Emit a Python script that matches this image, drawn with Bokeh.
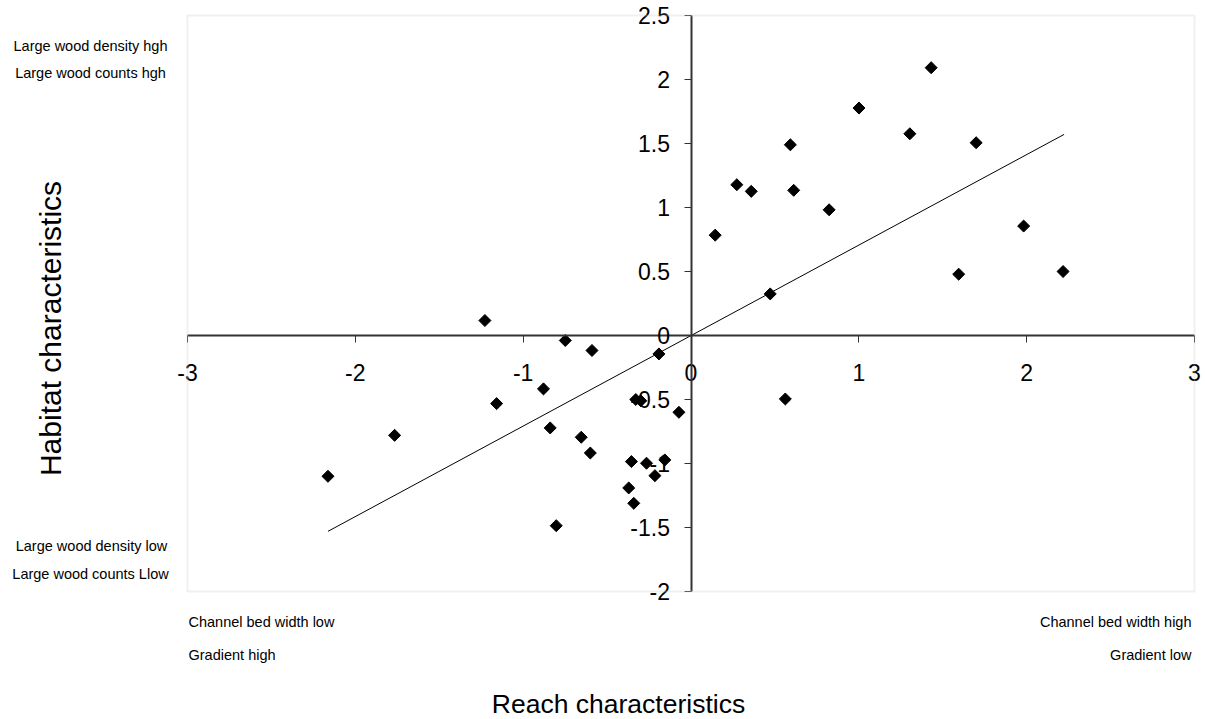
from bokeh.plotting import figure
from bokeh.models import FixedTicker, Label, LinearAxis, BoxAnnotation
from bokeh.embed import file_html
from bokeh.resources import INLINE
import numpy as np

# Reach characteristics (x) vs Habitat characteristics (y)
reach = [0.144, 0.273, 0.359, 0.592, 0.612, 0.472, 0.823, 1.001, 1.304, 1.431,
         1.699, 1.595, 1.982, 2.217, 0.562, -0.072, -1.228, -0.749, -0.590, -0.191,
         -0.879, -1.158, -0.329, -0.299, -1.766, -0.839, -0.654, -0.600, -2.163,
         -0.355, -0.265, -0.156, -0.215, -0.371, -0.341, -0.803]
habitat = [0.784, 1.178, 1.126, 1.490, 1.134, 0.325, 0.982, 1.777, 1.576, 2.092,
           1.506, 0.479, 0.855, 0.500, -0.496, -0.600, 0.117, -0.039, -0.117, -0.144,
           -0.417, -0.532, -0.500, -0.510, -0.780, -0.722, -0.795, -0.918, -1.100,
           -0.985, -0.998, -0.972, -1.095, -1.191, -1.311, -1.486]
trend_x = [-2.163, 2.223]
trend_y = [-1.530, 1.571]

x_ticks = [-3, -2, -1, 0, 1, 2, 3]
y_ticks = [-2, -1.5, -1, -0.5, 0, 0.5, 1, 1.5, 2, 2.5]

FONT = "Liberation Sans"
W, H = 1205, 719
X0, X1, Y0, Y1 = -3, 3, -2, 2.5
# plot-area box in page pixels
FL, FR, FT, FB = 187, 1194, 15, 591
kx = (X1 - X0) / (FR - FL)
ky = (Y1 - Y0) / (FB - FT)

def dx(px):
    return X0 + (px - FL) * kx

def dy(py):
    return Y1 - (py - FT) * ky

p = figure(width=W, height=H,
           x_range=(dx(0), dx(W)), y_range=(dy(H), dy(0)),
           x_axis_location=None, y_axis_location=None,
           output_backend="svg", toolbar_location=None,
           min_border=0, min_border_left=0, min_border_right=0,
           min_border_top=0, min_border_bottom=0)
p.grid.visible = False
p.outline_line_color = None
p.background_fill_color = "white"
p.border_fill_color = "white"

p.add_layout(BoxAnnotation(left=X0, right=X1, bottom=Y0, top=Y1,
                           fill_color=None, line_color="#cccccc", line_width=2))

def fmt(v):
    return "%g" % v

xax = LinearAxis(fixed_location=0)
yax = LinearAxis(fixed_location=0)
for ax, ticks, bnd in ((xax, x_ticks, (X0, X1)), (yax, y_ticks, (Y0, Y1))):
    ax.bounds = bnd
    ax.ticker = FixedTicker(ticks=ticks)
    ax.major_label_overrides = {t: fmt(t) for t in ticks}
    ax.axis_line_color = "#333333"
    ax.axis_line_width = 2
    ax.major_tick_line_color = "#333333"
    ax.major_tick_line_width = 1
    ax.major_tick_in = 0
    ax.major_tick_out = 7
    ax.minor_tick_line_color = None
    ax.major_label_text_font = FONT
    ax.major_label_text_font_size = "23px"
    ax.major_label_text_color = "black"
xax.major_label_standoff = 21
yax.major_label_standoff = 14
p.add_layout(xax, "below")
p.add_layout(yax, "left")

p.line(trend_x, trend_y, line_color="black", line_width=1)
p.scatter(reach, habitat, marker="square", size=8.5, angle=np.pi / 4,
          fill_color="black", line_color="black")

def add_label(text, px, py, size, align="center", angle=0.0):
    p.add_layout(Label(x=dx(px), y=dy(py), text=text, text_font=FONT,
                       text_font_size=size, text_align=align,
                       text_baseline="middle", angle=angle, text_color="black"))

add_label("Large wood density hgh", 90, 45, "14.5px")
add_label("Large wood counts hgh", 90, 72, "14.5px")
add_label("Large wood density low", 91, 545, "14.5px")
add_label("Large wood counts Llow", 90, 573, "14.5px")
add_label("Habitat characteristics", 50, 328, "30px", angle=np.pi / 2)
add_label("Channel bed width low", 188, 621, "14.5px", align="left")
add_label("Gradient high", 188, 654, "14.5px", align="left")
add_label("Channel bed width high", 1191, 621, "14.5px", align="right")
add_label("Gradient low", 1191, 654, "14.5px", align="right")
add_label("Reach characteristics", 618, 703, "26.5px")

open("out.html", "w").write(file_html(p, INLINE))
